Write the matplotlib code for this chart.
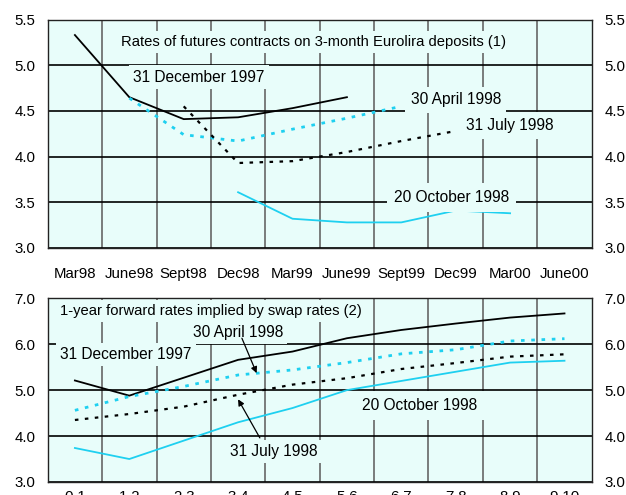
import matplotlib
matplotlib.use("Agg")
import matplotlib.pyplot as plt
import numpy as np

plt.rcParams['font.family'] = ['Liberation Sans', 'DejaVu Sans']

# Futures contracts on 3-month Eurolira deposits
quarters = ["Mar98", "June98", "Sept98", "Dec98", "Mar99", "June99",
            "Sept99", "Dec99", "Mar00", "June00"]
fut_dec97 = [5.33, 4.65, 4.41, 4.43, 4.53, 4.65]          # from Mar98
fut_apr98 = [4.64, 4.24, 4.17, 4.30, 4.42, 4.55]          # from June98
fut_jul98 = [4.55, 3.93, 3.95, 4.05, 4.17, 4.28]          # from Sept98
fut_oct98 = [3.61, 3.32, 3.28, 3.28, 3.41, 3.38]          # from Dec98

# 1-year forward rates implied by swap rates
horizons = ["0-1", "1-2", "2-3", "3-4", "4-5", "5-6", "6-7", "7-8", "8-9", "9-10"]
fwd_dec97 = [5.21, 4.88, 5.27, 5.66, 5.84, 6.13, 6.31, 6.45, 6.58, 6.67]
fwd_apr98 = [4.56, 4.86, 5.08, 5.33, 5.44, 5.60, 5.79, 5.88, 6.07, 6.12]
fwd_jul98 = [4.35, 4.48, 4.64, 4.90, 5.12, 5.26, 5.46, 5.59, 5.73, 5.78]
fwd_oct98 = [3.74, 3.50, 3.90, 4.30, 4.61, 5.00, 5.20, 5.40, 5.60, 5.64]

BG = "#e8fdfa"
CYAN = "#1ed0f0"
FS = 10.8      # tick labels
FT = 10.6      # panel titles
FA = 11.2      # series labels

fig = plt.figure(figsize=(6.26, 4.95), dpi=100)
ax1 = fig.add_axes([0.0762, 0.499, 0.869, 0.4616])
ax2 = fig.add_axes([0.0762, 0.0263, 0.869, 0.3711])


def bx(pad):
    return dict(facecolor=BG, edgecolor="none", pad=pad)


def style(ax, labels, ylim, yticks, label_pad):
    n = len(labels)
    ax.set_facecolor(BG)
    ax.set_xlim(-0.5, n - 0.5)
    ax.set_ylim(*ylim)
    ax.set_xticks(np.arange(n))
    ax.set_xticklabels(labels, fontsize=FS)
    ax.set_xticks(np.arange(n - 1) + 0.5, minor=True)
    ax.set_yticks(yticks)
    ax.set_yticklabels([f"{v:.1f}" for v in yticks], fontsize=FS)
    ax.tick_params(axis="x", which="both", length=0, pad=label_pad)
    ax.tick_params(axis="y", length=0, pad=9, labelright=True, right=True)
    ax.grid(which="minor", axis="x", color="#666666", lw=1.2)
    ax.grid(which="major", axis="y", color="black", lw=1.2)
    ax.grid(which="major", axis="x", visible=False)
    ax.set_axisbelow(True)
    for s in ax.spines.values():
        s.set_color("#222222")
        s.set_linewidth(1.0)


style(ax1, quarters, (3.0, 5.5), [3.0, 3.5, 4.0, 4.5, 5.0, 5.5], 13.5)
style(ax2, horizons, (3.0, 7.0), [3.0, 4.0, 5.0, 6.0, 7.0], 5.5)

dash_c = (0, (1.3, 2.4))
dash_k = (0, (1.6, 2.9))

# upper panel
ax1.plot(np.arange(0, 6), fut_dec97, color="black", lw=1.3, zorder=3)
ax1.plot(np.arange(1, 7), fut_apr98, color=CYAN, lw=2.0, ls=dash_c, zorder=3)
ax1.plot(np.arange(2, 8), fut_jul98, color="black", lw=1.6, ls=dash_k, zorder=3)
ax1.plot(np.arange(3, 9), fut_oct98, color=CYAN, lw=1.3, zorder=3)

ax1.text(4.39, 5.25, "Rates of futures contracts on 3-month Eurolira deposits (1)",
         ha="center", va="center", fontsize=FT, bbox=bx(3), zorder=4)
ax1.text(2.28, 4.87, "31 December 1997", ha="center", va="center",
         fontsize=FA, bbox=bx(3), zorder=4)
ax1.text(7.0, 4.62, "30 April 1998", ha="center", va="center",
         fontsize=FA, bbox=bx(4), zorder=4)
ax1.text(7.99, 4.34, "31 July 1998", ha="center", va="center",
         fontsize=FA, bbox=bx(4), zorder=4)
ax1.text(6.92, 3.555, "20 October 1998", ha="center", va="center",
         fontsize=FA, bbox=bx(5), zorder=4)

# lower panel
xs = np.arange(len(horizons))
ax2.plot(xs, fwd_dec97, color="black", lw=1.3, zorder=3)
ax2.plot(xs, fwd_apr98, color=CYAN, lw=2.0, ls=dash_c, zorder=3)
ax2.plot(xs, fwd_jul98, color="black", lw=1.6, ls=dash_k, zorder=3)
ax2.plot(xs, fwd_oct98, color=CYAN, lw=1.3, zorder=3)

ax2.text(-0.27, 6.73, "1-year forward rates implied by swap rates (2)",
         ha="left", va="center", fontsize=FT, bbox=bx(3), zorder=4)
ax2.text(-0.27, 5.77, "31 December 1997", ha="left", va="center",
         fontsize=FA, bbox=bx(3), zorder=4)
ax2.text(3.0, 6.25, "30 April 1998", ha="center", va="center",
         fontsize=FA, bbox=bx(3), zorder=4)
ax2.text(3.66, 3.67, "31 July 1998", ha="center", va="center",
         fontsize=FA, bbox=bx(3), zorder=4)
ax2.text(6.34, 4.67, "20 October 1998", ha="center", va="center",
         fontsize=FA, bbox=bx(5), zorder=4)

arrow = dict(arrowstyle="-|>", color="black", lw=0.9, mutation_scale=9,
             shrinkA=0, shrinkB=0)
ax2.annotate("", xy=(3.34, 5.37), xytext=(3.07, 6.13), arrowprops=arrow, zorder=5)
ax2.annotate("", xy=(3.0, 4.80), xytext=(3.40, 3.96), arrowprops=arrow, zorder=5)

fig.savefig("out.png", dpi=100, facecolor="white")
